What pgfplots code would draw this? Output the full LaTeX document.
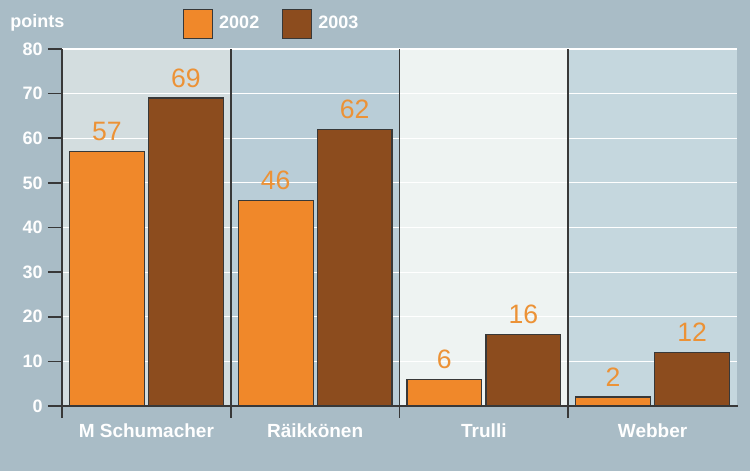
\documentclass[border=0pt]{standalone}
\usepackage{pgfplots}
\usepackage{pgfplotstable}
\pgfplotsset{compat=1.18}
\usepackage{fontspec}
\setmainfont{Liberation Sans}
\definecolor{bg}{HTML}{A9BCC6}
\definecolor{panelA}{HTML}{D3DDDF}
\definecolor{panelB}{HTML}{B9CDD7}
\definecolor{panelC}{HTML}{EEF3F2}
\definecolor{panelD}{HTML}{C5D7DE}
\definecolor{orangebar}{HTML}{F0882A}
\definecolor{brownbar}{HTML}{8C4C1E}
\definecolor{vallabel}{HTML}{EC9236}
\definecolor{axisdark}{HTML}{383838}

\pgfplotstableread{
x y
0 57
1 46
2 6
3 2
}\dataA
\pgfplotstableread{
x y
0 69
1 62
2 16
3 12
}\dataB

\begin{document}
\begin{tikzpicture}
\useasboundingbox (0,0) rectangle (375pt,235.5pt);
\fill[bg] (0,0) rectangle (375pt,235.5pt);
\begin{axis}[
  at={(31pt,32.5pt)}, anchor=south west,
  scale only axis, width=337.5pt, height=178.5pt,
  xmin=-0.5, xmax=3.5, ymin=0, ymax=80,
  clip=false,
  axis line style={draw=none},
  xtick={0,1,2,3},
  xticklabels={M Schumacher, Räikkönen, Trulli, Webber},
  x tick style={draw=none},
  ytick={0,10,...,80},
  ytick pos=left, tick align=outside,
  y tick style={axisdark, line width=0.8pt},
  major tick length=7pt,
  /pgf/number format/assume math mode=true,
  y tick label style={font=\bfseries\fontsize{9}{10}\selectfont, text=white, inner sep=0pt, xshift=-2.5pt},
  x tick label style={font=\bfseries\fontsize{9.5}{11}\selectfont, text=white, anchor=base, inner sep=0pt, yshift=-9pt},
  legend style={at={(axis description cs:0.1793,1.112)}, anchor=north west,
    draw=none, fill=none, inner sep=0pt, outer sep=0pt,
    font=\bfseries\fontsize{9}{10}\selectfont, text=white,
    nodes={inner sep=0pt},
    /tikz/every odd column/.append style={column sep=3pt},
    /tikz/every even column/.append style={column sep=11.5pt}},
  legend columns=-1,
  nodes near coords,
  every node near coord/.append style={anchor=south, inner sep=0pt, yshift=5pt,
    text=vallabel, font=\fontsize{13.3}{15}\selectfont},
  sqlegend/.style={legend image code/.code={\draw[##1, draw=axisdark, line width=0.6pt] (0pt,-7.25pt) rectangle (14.5pt,7.25pt);}},
]
\fill[panelA] (axis cs:-0.5,0) rectangle (axis cs:0.5,80);
\fill[panelB] (axis cs:0.5,0) rectangle (axis cs:1.5,80);
\fill[panelC] (axis cs:1.5,0) rectangle (axis cs:2.5,80);
\fill[panelD] (axis cs:2.5,0) rectangle (axis cs:3.5,80);
\pgfplotsinvokeforeach{10,20,...,80}{
  \draw[white, line width=0.6pt] (axis cs:-0.5,#1) -- (axis cs:3.5,#1);
}
\addplot[ybar, bar width=0.444, bar shift=-0.234, fill=orangebar, draw=axisdark, line width=0.6pt, sqlegend,
  every node near coord/.append style={xshift=-19.75pt}] table[x=x,y=y] {\dataA};
\addlegendentry{2002}
\addplot[ybar, bar width=0.444, bar shift=0.234, fill=brownbar, draw=axisdark, line width=0.6pt, sqlegend,
  every node near coord/.append style={xshift=19.75pt}] table[x=x,y=y] {\dataB};
\addlegendentry{2003}
\draw[axisdark, line width=0.8pt] (axis cs:-0.5,80) -- (axis cs:-0.5,0) -- ++(0pt,-6pt);
\draw[axisdark, line width=0.8pt] (axis cs:-0.5,0) -- (axis cs:3.5,0) -- ++(0.5pt,0pt);
\pgfplotsinvokeforeach{0.5,1.5,2.5}{
  \draw[axisdark, line width=0.8pt] (axis cs:#1,80) -- (axis cs:#1,0) -- ++(0pt,-6pt);
}
\node[anchor=base west, inner sep=0pt, font=\bfseries\fontsize{9}{10}\selectfont, text=white] at (axis description cs:-0.077,1.0616) {points};
\end{axis}
\end{tikzpicture}
\end{document}
